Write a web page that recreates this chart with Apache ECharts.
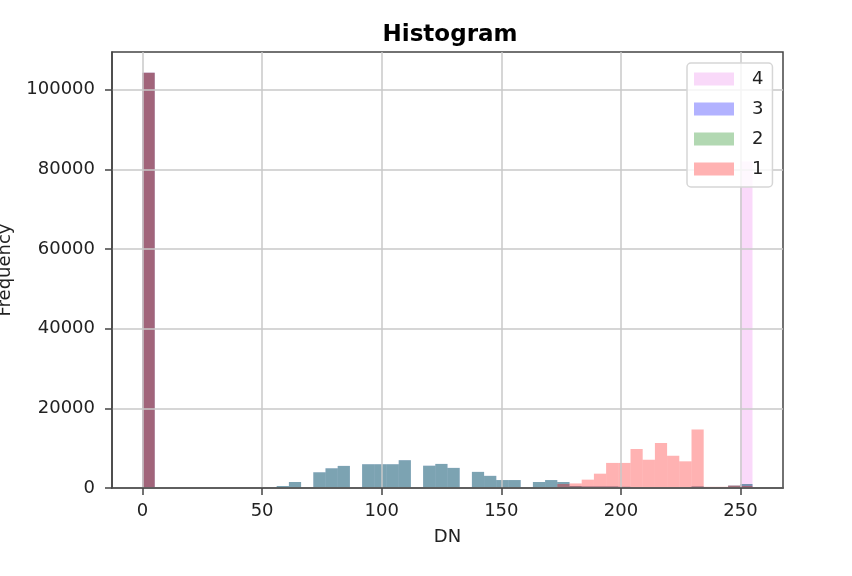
<!DOCTYPE html>
<html>
<head>
<meta charset="utf-8">
<script src="https://cdn.jsdelivr.net/npm/echarts@6/dist/echarts.min.js"></script>
<style>
  html, body { margin: 0; padding: 0; background: #fff; }
  #chart { width: 852px; height: 576px; }
</style>
</head>
<body>
<div id="chart"></div>
<script>
// 50 bins over DN 0..255 (bin width 5.1)
var binCount = 50
var dnMax = 255

// counts per bin
// band 1 (red)
var band1 = [104300, 0, 0, 0, 0, 0, 0, 0, 0, 0,
  0, 0, 0, 0, 0, 0, 0, 0, 0, 0,
  0, 0, 0, 0, 0, 0, 0, 0, 0, 0,
  0, 0, 0, 0, 1000, 1150, 2100, 3600, 6300, 6300,
  9800, 7100, 11300, 8100, 6700, 14700, 300, 300, 600, 500]
// band 2 (green) and band 3 (blue) are nearly identical
var band2 = [104300, 0, 0, 0, 0, 0, 0, 0, 0, 0,
  0, 500, 1500, 0, 3950, 4950, 5550, 0, 5970, 5970,
  5970, 6980, 0, 5600, 6050, 5050, 0, 4050, 3050, 2000,
  2000, 0, 1500, 2000, 1500, 500, 400, 400, 400, 300,
  0, 0, 0, 0, 0, 400, 0, 0, 600, 1000]
var band3 = [104300, 0, 0, 0, 0, 0, 0, 0, 0, 0,
  0, 500, 1500, 0, 3950, 4950, 5550, 0, 5970, 5970,
  5970, 6980, 0, 5600, 6050, 5050, 0, 4050, 3050, 2000,
  2000, 0, 1500, 2000, 1500, 500, 400, 400, 400, 300,
  0, 0, 0, 0, 0, 400, 0, 0, 600, 1000]
// band 4 (violet)
var band4 = [104300, 0, 0, 0, 0, 0, 0, 0, 0, 0,
  0, 0, 0, 0, 0, 0, 0, 0, 0, 0,
  0, 0, 0, 0, 0, 0, 0, 0, 0, 0,
  0, 0, 0, 0, 0, 0, 0, 0, 0, 0,
  0, 0, 0, 0, 0, 0, 0, 0, 0, 82000]

var legendNames = ['4', '3', '2', '1']
var xTicks = [0, 50, 100, 150, 200, 250]
var yTicks = [0, 20000, 40000, 60000, 80000, 100000]

var fontFamily = 'DejaVu Sans'
var textColor = '#222'

// turn a count array into [left edge, right edge, count]
function toBins (counts) {
  var w = dnMax / binCount
  return counts.map(function (c, i) {
    return [i * w, (i + 1) * w, c]
  })
}

function histSeries (name, counts, fill) {
  return {
    name: name,
    type: 'custom',
    data: toBins(counts),
    encode: { x: [0, 1], y: 2 },
    itemStyle: { color: fill },
    renderItem: function (params, api) {
      var p0 = api.coord([api.value(0), api.value(2)])
      var p1 = api.coord([api.value(1), 0])
      return {
        type: 'rect',
        shape: { x: p0[0], y: p0[1], width: p1[0] - p0[0], height: p1[1] - p0[1] },
        style: { fill: fill }
      }
    }
  }
}

var chart = echarts.init(document.getElementById('chart'), null, { renderer: 'canvas' })

var option = {
  animation: false,
  backgroundColor: '#fff',
  title: {
    text: 'Histogram',
    left: 445,
    top: 19,
    textAlign: 'center',
    textStyle: { fontFamily: fontFamily, fontSize: 23, fontWeight: 'bold', color: '#000' }
  },
  grid: {
    left: 112, right: 69, top: 52, bottom: 88,
    outerBoundsMode: 'none',
    containLabel: false,
    show: true, borderColor: '#444', borderWidth: 1.5
  },
  legend: {
    orient: 'vertical',
    left: 687,
    top: 63,
    z: 10,
    icon: 'rect',
    itemWidth: 40,
    itemHeight: 13,
    itemGap: 12,
    padding: [7, 9, 9, 7],
    backgroundColor: 'rgba(255,255,255,0.8)',
    borderColor: '#d6d6d6',
    borderWidth: 1.5,
    borderRadius: 4,
    textStyle: { fontFamily: fontFamily, fontSize: 18, lineHeight: 18, color: textColor, padding: [0, 0, 0, 13] },
    data: [
      { name: '4', itemStyle: { color: '#f9d9f9' } },
      { name: '3', itemStyle: { color: '#b2b2ff' } },
      { name: '2', itemStyle: { color: '#b2d8b2' } },
      { name: '1', itemStyle: { color: '#ffb2b2' } }
    ]
  },
  xAxis: {
    type: 'value',
    min: -12.75,
    max: 267.75,
    splitNumber: 5,
    z: 3,
    name: 'DN',
    nameLocation: 'middle',
    nameGap: 40,
    nameTextStyle: { fontFamily: fontFamily, fontSize: 18, color: textColor },
    axisLine: { show: true, onZero: false, lineStyle: { color: '#444', width: 1.5 } },
    axisTick: { show: true, length: 7, customValues: xTicks, lineStyle: { color: '#444', width: 1.5 } },
    axisLabel: {
      margin: 14,
      customValues: xTicks,
      fontFamily: fontFamily, fontSize: 18, color: textColor,
      formatter: function (v) { return xTicks.indexOf(v) >= 0 ? String(v) : '' }
    },
    splitLine: { show: true, lineStyle: { color: '#c8c8c8', width: 1.5 } }
  },
  yAxis: {
    type: 'value',
    min: 0,
    max: 109500,
    interval: 20000,
    z: 3,
    name: 'Frequency',
    nameLocation: 'middle',
    nameGap: 98,
    nameTextStyle: { fontFamily: fontFamily, fontSize: 18, color: textColor },
    axisLine: { show: true, onZero: false, lineStyle: { color: '#444', width: 1.5 } },
    axisTick: { show: true, length: 7, customValues: yTicks, lineStyle: { color: '#444', width: 1.5 } },
    axisLabel: {
      margin: 17,
      customValues: yTicks,
      fontFamily: fontFamily, fontSize: 18, color: textColor,
      formatter: function (v) { return yTicks.indexOf(v) >= 0 ? String(v) : '' }
    },
    splitLine: { show: true, lineStyle: { color: '#c8c8c8', width: 1.5 } }
  },
  series: [
    histSeries('4', band4, 'rgba(238,130,238,0.3)'),
    histSeries('3', band3, 'rgba(0,0,255,0.3)'),
    histSeries('2', band2, 'rgba(0,128,0,0.3)'),
    histSeries('1', band1, 'rgba(255,0,0,0.3)')
  ]
}

chart.setOption(option)
</script>
</body>
</html>
